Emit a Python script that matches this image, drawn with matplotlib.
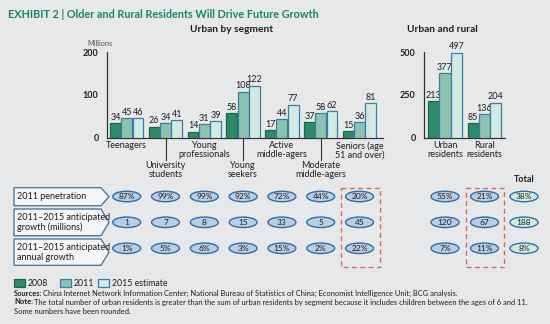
import matplotlib
matplotlib.use("Agg")
import matplotlib.pyplot as plt
import matplotlib.transforms as mtransforms
from matplotlib.patches import Ellipse, Rectangle, Polygon

# ---------------- data ----------------
segments = ["Teenagers", "University\nstudents", "Young\nprofessionals", "Young\nseekers",
            "Active\nmiddle-agers", "Moderate\nmiddle-agers", "Seniors (age\n51 and over)"]
seg_2008 = [34, 26, 14, 58, 17, 37, 15]
seg_2011 = [45, 34, 31, 108, 44, 58, 36]
seg_2015 = [46, 41, 39, 122, 77, 62, 81]

areas = ["Urban\nresidents", "Rural\nresidents"]
area_2008 = [213, 85]
area_2011 = [377, 136]
area_2015 = [497, 204]

series_names = ["2008", "2011", "2015 estimate"]

row_labels = ["2011 penetration", "2011\u20132015 anticipated\ngrowth (millions)",
              "2011\u20132015 anticipated\nannual growth"]
seg_penetration = ["87%", "99%", "99%", "92%", "72%", "44%", "20%"]
seg_growth = ["1", "7", "8", "15", "33", "5", "45"]
seg_annual = ["1%", "5%", "6%", "3%", "15%", "2%", "22%"]
# urban, rural, total
area_penetration = ["55%", "21%", "38%"]
area_growth = ["120", "67", "188"]
area_annual = ["7%", "11%", "8%"]

left_ticks = [0, 100, 200]
right_ticks = [0, 250, 500]

# ---------------- style ----------------
BG = "#e7e8ea"
FILL = ["#2e8a6c", "#8cc2b0", "#d3e9e3"]
EDGE = ["#1f6650", "#3b7ca8", "#3b7ca8"]
GREEN = "#1c8466"
DARK = "#1e1e1e"
ELL_FILL = "#b9cde4"
ELL_EDGE = "#2f6ea8"
TOT_FILL = "#d3ece3"
RED = "#d9695b"

plt.rcParams["font.family"] = ["Lato", "DejaVu Sans"]

W, H = 550, 324
fig = plt.figure(figsize=(W / 100, H / 100), dpi=100, facecolor=BG)

def px_axes(x0, y0, x1, y1):
    return fig.add_axes([x0 / W, 1 - y1 / H, (x1 - x0) / W, (y1 - y0) / H])

# overlay in pixel coordinates
ov = fig.add_axes([0, 0, 1, 1])
ov.set_xlim(0, W)
ov.set_ylim(H, 0)
ov.axis("off")
ov.patch.set_alpha(0)
ov.set_autoscale_on(False)

Y0, Y1 = 52.3, 137.7
axL = px_axes(107, Y0, 383, Y1)
axR = px_axes(424, Y0, 505, Y1)

def style_axis(ax, ticks):
    ax.patch.set_alpha(0)
    for s in ["top", "right"]:
        ax.spines[s].set_visible(False)
    for s in ["left", "bottom"]:
        ax.spines[s].set_color("#333333")
        ax.spines[s].set_linewidth(0.9)
    ax.set_yticks(ticks)
    ax.set_yticklabels([str(t) for t in ticks], fontsize=6.5, fontweight="bold", color=DARK)
    ax.tick_params(axis="y", length=0, pad=6)
    ax.set_xticks([])
    ax.set_ylim(0, ticks[-1])

BW = 0.28
OFF = [-0.29, 0.0, 0.29]

def draw_bars(ax, series):
    for k, vals in enumerate(series):
        xs = [i + OFF[k] for i in range(len(vals))]
        bars = ax.bar(xs, vals, width=BW, color=FILL[k], edgecolor=EDGE[k], linewidth=0.9, zorder=3)
        for b, v in zip(bars, vals):
            ax.annotate(str(v), (b.get_x() + b.get_width() / 2, v), xytext=(0, 1),
                        textcoords="offset points", ha="center", va="bottom",
                        fontsize=6.5, color=DARK)

draw_bars(axL, [seg_2008, seg_2011, seg_2015])
draw_bars(axR, [area_2008, area_2011, area_2015])
style_axis(axL, left_ticks)
style_axis(axR, right_ticks)
axL.set_xlim(-0.508, 6.605)
axR.set_xlim(-0.532, 1.519)

bL = mtransforms.blended_transform_factory(axL.transData, ov.transData)
bR = mtransforms.blended_transform_factory(axR.transData, ov.transData)

# category labels
for i, name in enumerate(segments):
    if i % 2 == 0:
        ov.text(i, 141, name, transform=bL, ha="center", va="top", fontsize=6.5,
                color=DARK, linespacing=0.95)
    else:
        ov.plot([i, i], [138, 160], transform=bL, color="#333333", lw=0.8, clip_on=False)
        ov.text(i, 161.5, name, transform=bL, ha="center", va="top", fontsize=6.5,
                color=DARK, linespacing=0.95)
for i, name in enumerate(areas):
    ov.text(i, 141, name, transform=bR, ha="center", va="top", fontsize=6.5,
            color=DARK, linespacing=0.95)

# titles
ov.text(8, 14, "EXHIBIT 2 | Older and Rural Residents Will Drive Future Growth",
        fontsize=7.8, fontweight="bold", color=GREEN, ha="left", va="center")
ov.text(232, 29, "Urban by segment", fontsize=7.3, fontweight="bold", color=DARK,
        ha="center", va="center")
ov.text(442, 29, "Urban and rural", fontsize=7.3, fontweight="bold", color=DARK,
        ha="center", va="center")
ov.text(100, 43, "Millions", fontsize=5.3, color="#555555", ha="center", va="center")

# table rows
row_y = [196.5, 222.3, 248.3]
row_box = [(187.7, 205.7), (209.0, 235.7), (239.0, 265.3)]
for (t, b), lab in zip(row_box, row_labels):
    m = (t + b) / 2
    poly = Polygon([(14, t), (101, t), (109, m), (101, b), (14, b)], closed=True,
                   facecolor="#f3f5f7", edgecolor="#3b6fa0", lw=0.9)
    ov.add_patch(poly)
    ov.text(17, m, lab, fontsize=6.5, color=DARK, ha="left", va="center", linespacing=1.15)

def ellipses(trans, values, fill, width, y):
    for i, v in enumerate(values):
        e = Ellipse((i, y), width=width, height=10.5, transform=trans, facecolor=fill,
                    edgecolor=ELL_EDGE, lw=1.0, clip_on=False)
        ov.add_patch(e)
        ov.text(i, y + 0.3, v, transform=trans, ha="center", va="center", fontsize=6,
                color=DARK)

for y, seg_vals, area_vals in zip(row_y, [seg_penetration, seg_growth, seg_annual],
                                  [area_penetration, area_growth, area_annual]):
    ellipses(bL, seg_vals, ELL_FILL, 0.72, y)
    ellipses(bR, area_vals[:2], ELL_FILL, 0.71, y)
    e = Ellipse((2, y), width=0.71, height=10.5, transform=bR, facecolor=TOT_FILL,
                edgecolor=ELL_EDGE, lw=1.0, clip_on=False)
    ov.add_patch(e)
    ov.text(2, y + 0.3, area_vals[2], transform=bR, ha="center", va="center",
            fontsize=6, color=DARK)

ov.text(2, 179, "Total", transform=bR, ha="center", va="center", fontsize=6.5,
        fontweight="bold", color=DARK)

# dashed highlight boxes
ov.add_patch(Rectangle((5.52, 187.7), 1.01, 79, transform=bL, fill=False, edgecolor=RED,
                       lw=1.0, linestyle=(0, (3.5, 2.5)), clip_on=False))
ov.add_patch(Rectangle((0.52, 187.7), 0.98, 79, transform=bR, fill=False, edgecolor=RED,
                       lw=1.0, linestyle=(0, (3.5, 2.5)), clip_on=False))

# legend
leg_x = [14, 60, 98]
for k, name in enumerate(series_names):
    ov.add_patch(Rectangle((leg_x[k], 279), 11, 8, facecolor=FILL[k], edgecolor=EDGE[k], lw=0.9))
    ov.text(leg_x[k] + 14, 283, name, fontsize=6.3, color=DARK, ha="left", va="center")

# footnotes
fs = 5.4
renderer = fig.canvas.get_renderer()

def lead_text(y, bold, rest):
    t = ov.text(14, y, bold, fontsize=fs, fontweight="bold", color=DARK, ha="left", va="center")
    bb = t.get_window_extent(renderer=renderer)
    x_end = bb.x1 + 0.8  # figure pixels == overlay units
    ov.text(x_end, y, rest, fontsize=fs, color=DARK, ha="left", va="center")

lead_text(293, "Sources:", "China Internet Network Information Center; National Bureau of "
          "Statistics of China; Economist Intelligence Unit; BCG analysis.")
lead_text(302, "Note:", "The total number of urban residents is greater than the sum of urban "
          "residents by segment because it includes children between the ages of 6 and 11.")
ov.text(14, 311, "Some numbers have been rounded.", fontsize=fs, color=DARK, ha="left", va="center")

fig.savefig("out.png", dpi=100, facecolor=BG)
